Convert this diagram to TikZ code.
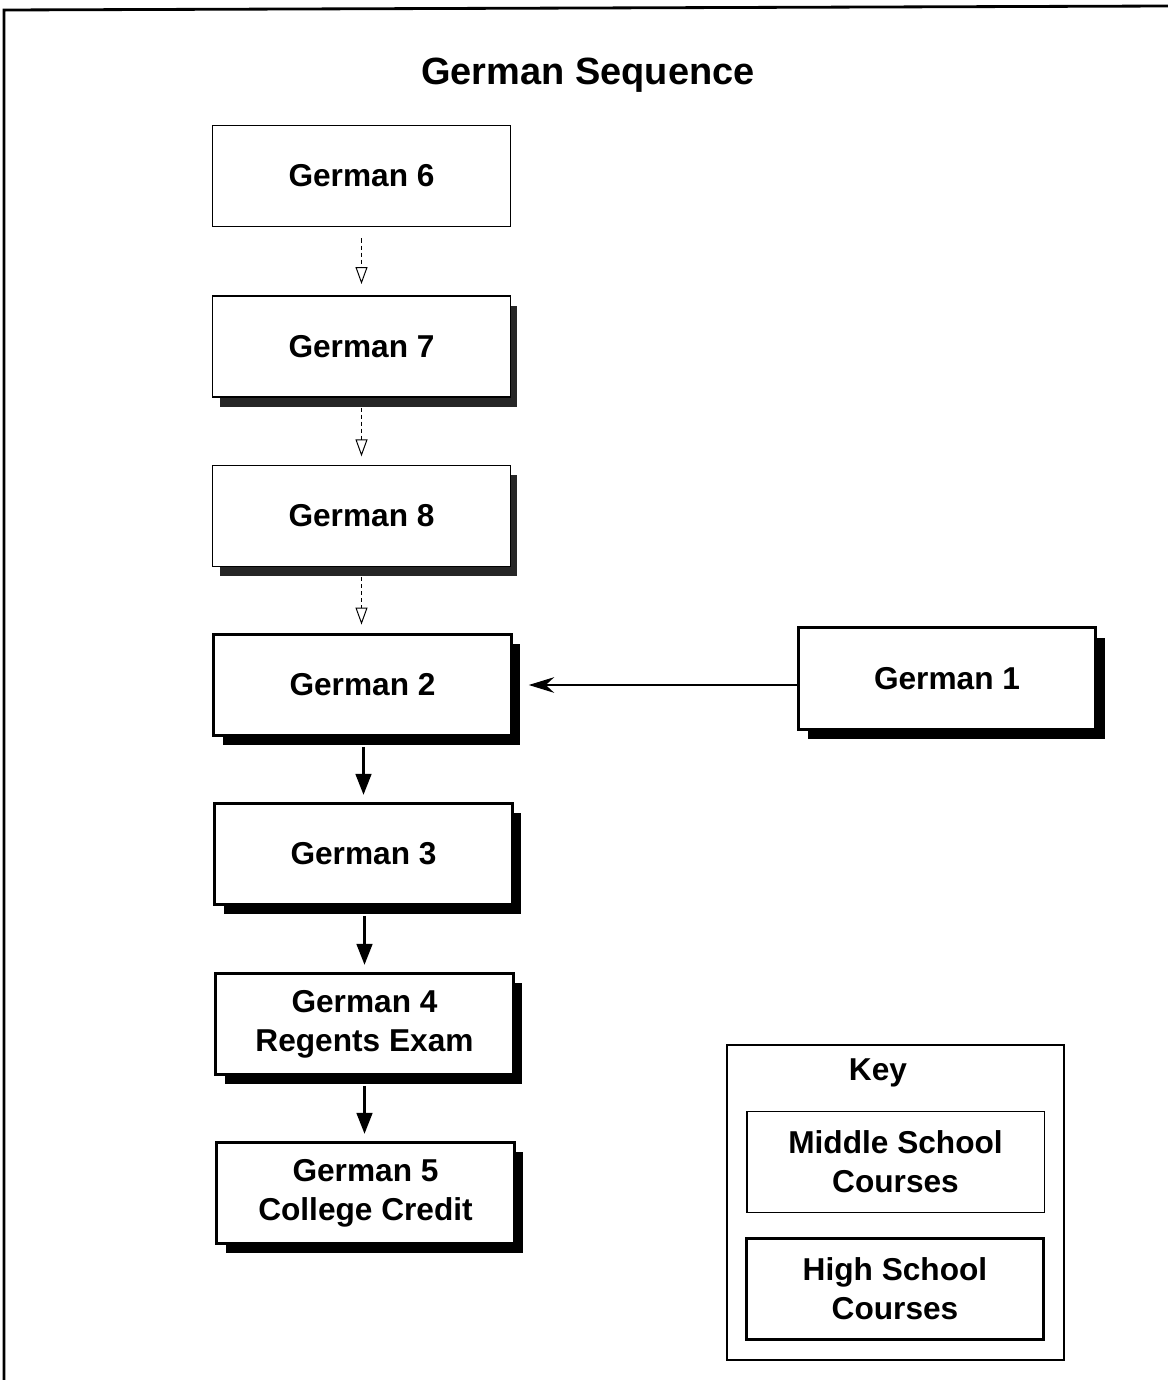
\documentclass[tikz,border=0pt]{standalone}
\usepackage{fontspec}
\setmainfont{Liberation Sans}
\usetikzlibrary{arrows.meta, shadows}

\begin{document}
\begin{tikzpicture}[x=.025cm, y=-.025cm,
	course/.style = {draw = black, fill=white, minimum width=7.43cm, minimum height=2.53cm, inner sep=0pt, align=center, font=\fontsize{22.5}{27.5}\selectfont\bfseries},
	midcourse/.style = {course, line width=.9pt},
	midshadow/.style = {midcourse, drop shadow={shadow xshift=5pt, shadow yshift=-7pt, fill=black!85, opacity=1}},
	highcourse/.style = {course, line width=2pt, drop shadow={shadow xshift=6.5pt, shadow yshift=-7pt, fill=black, opacity=1}},
	msarrow/.style = {densely dashed, line width=.7pt, -{Triangle[open, length=12pt, width=8.5pt]}},
	hsarrow/.style = {line width=2.3pt, -{Triangle[length=15pt, width=11pt]}}
	]
	\useasboundingbox (0, 0) rectangle (1168, 1380);
	
	% frame
	\draw [line width=2pt] (4, 1380) -- (4, 10) -- (1168, 6);
	\node (title) at (588, 75) {\fontsize{27}{30}\selectfont\bfseries German Sequence};
	
	% 初中
	% modules
	\node [midcourse] (g6) at (361.5, 176) {German 6};
	\node [midshadow] (g7) at (361.5, 346.5) {German 7};
	\node [midshadow] (g8) at (361.5, 516) {German 8};
	
	% 高中
	% modules
	\node [highcourse] (g2) at (362.5, 685) {German 2};
	\node [highcourse] (g3) at (363.5, 854) {German 3};
	\node [highcourse] (g4) at (364.5, 1024) {German 4\\Regents Exam};
	\node [highcourse] (g5) at (365.5, 1193) {German 5\\College Credit};
	\node [highcourse] (g1) at (947, 678.5) {German 1};
	
	% lines
	\draw [msarrow, shorten <=8pt, shorten >=8pt] (g6.south) -- (g7.north);
	\draw [msarrow, shorten <=7pt, shorten >=6pt] (g7.south) -- (g8.north);
	\draw [msarrow, shorten <=7pt, shorten >=6pt] (g8.south) -- (g8.south |- g2.north);
	
	\draw [hsarrow, shorten <=7pt, shorten >=5pt] (g3.north |- g2.south) -- (g3.north);
	\draw [hsarrow, shorten <=7pt, shorten >=5pt] (g4.north |- g3.south) -- (g4.north);
	\draw [hsarrow, shorten <=7pt, shorten >=5pt] (g4.south) -- (g4.south |- g5.north);
	\draw [line width=2pt, -{Stealth[length=18pt, width=11pt]}, shorten >=11.5pt] (g1.west |- g2.east) -- (g2.east);
	
	% key
	\node [draw = black, line width=1.2pt, minimum width=8.43cm, minimum height=7.88cm] (keyframe) at (895.5, 1202.5) {};
	\node [font=\fontsize{22.5}{27.5}\selectfont\bfseries] (keylabel) at (878, 1073) {Key};
	\node [midcourse] (keymid) at (895.5, 1162) {Middle School\\Courses};
	\node [course, line width=2pt] (keyhigh) at (895, 1289) {High School\\Courses};
\end{tikzpicture}
\end{document}
